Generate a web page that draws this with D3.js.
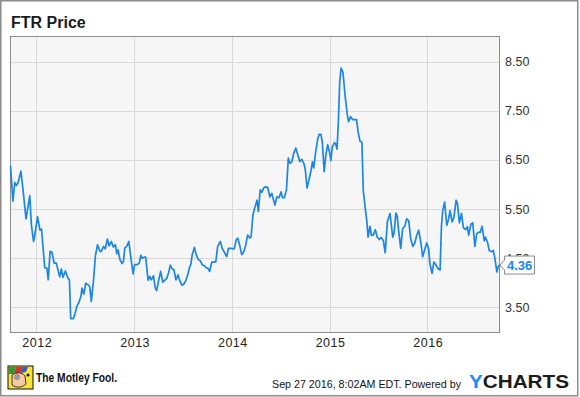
<!DOCTYPE html>
<html>
<head>
<meta charset="utf-8">
<script src="https://cdn.jsdelivr.net/npm/d3@7"></script>
<style>
  body { margin: 0; background: #fff; }
  text { font-family: "Liberation Sans", Arial, sans-serif; }
</style>
</head>
<body>
<div id="chart"></div>
<script>

var title = 'FTR Price';
var yTicks = [3.5, 4.5, 5.5, 6.5, 7.5, 8.5];
var yearTicks = ['2012', '2013', '2014', '2015', '2016'];
var lastLabel = '4.36';

// weekly-ish closes
var dates = [
  '2011-09-27','2011-10-06','2011-10-13','2011-10-19','2011-10-25','2011-11-05','2011-11-12','2011-11-24',
  '2011-12-08','2011-12-14','2011-12-22','2011-12-27','2012-01-06','2012-01-15','2012-01-21','2012-02-02',
  '2012-02-10','2012-02-15','2012-02-22','2012-02-29','2012-03-08','2012-03-16','2012-03-29','2012-04-04',
  '2012-04-10','2012-04-19','2012-04-29','2012-05-04','2012-05-09','2012-05-19','2012-05-24','2012-06-01',
  '2012-06-08','2012-06-16','2012-06-20','2012-06-27','2012-07-04','2012-07-13','2012-07-19','2012-07-25',
  '2012-08-02','2012-08-09','2012-08-17','2012-08-26','2012-08-31','2012-09-09','2012-09-15','2012-09-23',
  '2012-09-29','2012-10-08','2012-10-15','2012-10-23','2012-10-28','2012-11-02','2012-11-09','2012-11-17',
  '2012-11-22','2012-11-27','2012-12-04','2012-12-12','2012-12-19','2012-12-28','2013-01-03','2013-01-13',
  '2013-01-20','2013-01-26','2013-01-31','2013-02-07','2013-02-13','2013-02-22','2013-02-28','2013-03-06',
  '2013-03-14','2013-03-21','2013-03-26','2013-04-03','2013-04-10','2013-04-18','2013-04-25','2013-05-03',
  '2013-05-10','2013-05-16','2013-05-23','2013-05-30','2013-06-06','2013-06-14','2013-06-18','2013-06-28',
  '2013-07-05','2013-07-13','2013-07-20','2013-07-28','2013-08-01','2013-08-06','2013-08-14','2013-08-21',
  '2013-08-29','2013-09-05','2013-09-13','2013-09-20','2013-09-28','2013-10-03','2013-10-10','2013-10-18',
  '2013-10-28','2013-11-02','2013-11-09','2013-11-19','2013-11-26','2013-12-06','2013-12-13','2013-12-19',
  '2013-12-29','2014-01-10','2014-01-17','2014-01-23','2014-01-30','2014-02-07','2014-02-14','2014-02-22',
  '2014-03-01','2014-03-09','2014-03-14','2014-03-21','2014-03-29','2014-04-05','2014-04-10','2014-04-17',
  '2014-04-23','2014-04-30','2014-05-05','2014-05-15','2014-05-23','2014-05-30','2014-06-06','2014-06-11',
  '2014-06-18','2014-06-26','2014-07-04','2014-07-09','2014-07-16','2014-07-24','2014-07-31','2014-08-06',
  '2014-08-13','2014-08-20','2014-08-28','2014-09-04','2014-09-12','2014-09-19','2014-09-27','2014-10-02',
  '2014-10-09','2014-10-16','2014-10-24','2014-10-29','2014-11-03','2014-11-10','2014-11-18','2014-11-23',
  '2014-11-30','2014-12-05','2014-12-12','2014-12-18','2014-12-25','2015-01-02','2015-01-06','2015-01-11',
  '2015-01-19','2015-01-24','2015-01-29','2015-02-03','2015-02-08','2015-02-13','2015-02-20','2015-02-28',
  '2015-03-08','2015-03-13','2015-03-21','2015-03-28','2015-04-12','2015-04-18','2015-04-25','2015-05-02',
  '2015-05-07','2015-05-14','2015-05-20','2015-05-25','2015-06-01','2015-06-06','2015-06-13','2015-06-21',
  '2015-06-28','2015-07-06','2015-07-13','2015-07-21','2015-07-28','2015-08-05','2015-08-15','2015-08-20',
  '2015-08-25','2015-08-30','2015-09-06','2015-09-11','2015-09-16','2015-09-24','2015-10-01','2015-10-09',
  '2015-10-16','2015-10-24','2015-10-31','2015-11-08','2015-11-15','2015-11-22','2015-11-30','2015-12-07',
  '2015-12-15','2015-12-22','2015-12-30','2016-01-06','2016-01-11','2016-01-19','2016-01-26','2016-02-03',
  '2016-02-10','2016-02-18','2016-02-23','2016-02-28','2016-03-06','2016-03-14','2016-03-21','2016-03-26',
  '2016-04-03','2016-04-10','2016-04-18','2016-04-23','2016-04-30','2016-05-08','2016-05-15','2016-05-23',
  '2016-05-30','2016-06-04','2016-06-12','2016-06-19','2016-06-27','2016-07-04','2016-07-12','2016-07-17',
  '2016-07-24','2016-08-01','2016-08-05','2016-08-13','2016-08-20','2016-08-30','2016-09-04','2016-09-10',
  '2016-09-17','2016-09-22','2016-09-27'
];
var prices = [
  6.38,5.66,6.04,5.98,6.03,6.27,5.93,5.30,
  5.77,5.18,4.84,4.98,5.34,5.07,5.09,4.30,
  4.30,4.06,4.64,4.62,4.40,4.40,4.12,4.28,
  4.11,4.24,4.09,4.06,3.27,3.27,3.35,3.52,
  3.59,3.72,3.89,3.77,3.99,3.96,3.92,3.62,
  4.03,4.54,4.77,4.64,4.64,4.74,4.69,4.89,
  4.75,4.84,4.73,4.77,4.59,4.67,4.47,4.39,
  4.43,4.71,4.74,4.84,4.54,4.18,4.37,4.37,
  4.40,4.56,4.50,4.52,4.52,4.05,4.13,4.06,
  4.14,3.89,3.84,4.06,4.23,4.01,4.05,4.09,
  4.21,4.36,4.28,4.26,4.06,4.16,4.08,3.95,
  3.97,4.04,4.16,4.33,4.38,4.57,4.72,4.57,
  4.47,4.45,4.36,4.35,4.30,4.30,4.23,4.42,
  4.42,4.43,4.74,4.84,4.70,4.60,4.53,4.70,
  4.70,4.69,4.87,4.91,4.77,4.57,4.62,4.77,
  4.97,4.91,4.94,5.39,5.55,5.68,5.45,5.89,
  5.84,5.93,5.95,5.94,5.75,5.82,5.68,5.58,
  5.75,5.73,5.85,5.73,5.73,5.89,6.54,6.43,
  6.46,6.63,6.74,6.61,6.47,6.51,6.43,6.32,
  5.93,6.09,6.29,6.46,6.34,6.66,6.93,7.02,
  7.02,6.86,6.26,6.59,6.81,6.63,6.49,6.76,
  6.85,6.83,6.72,7.28,8.09,8.37,8.29,7.82,
  7.43,7.28,7.38,7.32,7.32,7.06,6.88,6.86,
  5.88,5.54,5.27,4.93,5.15,4.97,4.97,5.08,
  4.93,4.88,4.92,4.86,4.61,5.24,5.41,5.17,
  4.93,5.01,5.42,5.35,5.07,4.70,5.10,5.15,
  5.30,5.26,4.90,4.74,4.80,4.95,5.07,4.86,
  4.53,4.66,4.81,4.70,4.39,4.19,4.42,4.36,
  4.29,4.26,5.14,5.47,5.64,5.17,5.30,5.47,
  5.24,5.34,5.68,5.61,5.22,5.41,5.12,5.08,
  5.14,4.97,5.19,5.22,4.74,5.00,5.03,5.03,
  5.15,4.85,4.93,4.83,4.65,4.63,4.66,4.49,
  4.22,4.32,4.36
];

var W = 580, H = 397;
var plot = { x0: 10.5, x1: 499.5, y0: 36.5, y1: 332.5 };
var parse = d3.timeParse('%Y-%m-%d');

var data = dates.map(function (d, i) { return { date: parse(d), price: prices[i] }; });

var svg = d3.select('#chart').append('svg')
    .attr('width', W)
    .attr('height', H);

// outer frame
svg.append('rect')
    .attr('x', 0.75).attr('y', 0.75)
    .attr('width', 577).attr('height', 395)
    .attr('fill', '#fff')
    .attr('stroke', '#8c8c8c')
    .attr('stroke-width', 1.5);

svg.append('text')
    .attr('x', 11).attr('y', 28)
    .style('font-size', '16px')
    .style('font-weight', 'bold')
    .attr('fill', '#1a1a1a')
    .text(title);

var x = d3.scaleTime()
    .domain([parse('2011-09-27'), parse('2016-09-27')])
    .range([plot.x0, plot.x1]);

var y = d3.scaleLinear()
    .domain([3.5, 8.5])
    .range([307.3, 61.7]);

svg.append('rect')
    .attr('x', plot.x0).attr('y', plot.y0)
    .attr('width', plot.x1 - plot.x0).attr('height', plot.y1 - plot.y0)
    .attr('fill', '#f6f6f6');

// grid
svg.append('g')
    .selectAll('line')
    .data(yTicks)
    .enter().append('line')
    .attr('x1', plot.x0).attr('x2', plot.x1)
    .attr('y1', d => Math.round(y(d)) + 0.5)
    .attr('y2', d => Math.round(y(d)) + 0.5)
    .attr('stroke', '#d9d9d9');

svg.append('g')
    .selectAll('line')
    .data(yearTicks)
    .enter().append('line')
    .attr('x1', d => Math.round(x(parse(d + '-01-01'))) + 0.5)
    .attr('x2', d => Math.round(x(parse(d + '-01-01'))) + 0.5)
    .attr('y1', plot.y0).attr('y2', plot.y1)
    .attr('stroke', '#d9d9d9');

svg.append('rect')
    .attr('x', plot.x0).attr('y', plot.y0)
    .attr('width', plot.x1 - plot.x0).attr('height', plot.y1 - plot.y0)
    .attr('fill', 'none')
    .attr('stroke', '#8c8c8c');

// axes labels (4.50 sits partly under the last-value flag, as in the original)
svg.append('g')
    .selectAll('text')
    .data(yTicks)
    .enter().append('text')
    .attr('x', 505)
    .attr('y', d => y(d) + 4.5)
    .style('font-size', '12.5px')
    .attr('fill', '#333')
    .text(d => d3.format('.2f')(d));

svg.append('g')
    .selectAll('text')
    .data(yearTicks)
    .enter().append('text')
    .attr('x', d => x(parse(d + '-01-01')) + 1)
    .attr('y', 347)
    .attr('text-anchor', 'middle')
    .style('font-size', '12.5px')
    .style('letter-spacing', '0.5px')
    .attr('fill', '#222')
    .text(d => d);

// price line
var line = d3.line()
    .x(d => x(d.date))
    .y(d => y(d.price));

svg.append('path')
    .datum(data)
    .attr('d', line)
    .attr('fill', 'none')
    .attr('stroke', '#1a86e8')
    .attr('stroke-width', 1.7)
    .attr('stroke-linejoin', 'round');

// last value flag
var last = data[data.length - 1];
var ly = y(last.price);
svg.append('path')
    .attr('d', `M${plot.x1 + 0.5},${ly} L504.5,${ly - 5} L504.5,${ly - 9} L534.5,${ly - 9} L534.5,${ly + 9} L504.5,${ly + 9} L504.5,${ly + 5} Z`)
    .attr('fill', '#fff')
    .attr('stroke', '#8c8c8c');

svg.append('text')
    .attr('x', 507)
    .attr('y', ly + 5)
    .style('font-size', '13px')
    .style('font-weight', 'bold')
    .attr('fill', '#1a86e8')
    .text(lastLabel);

// footer: Motley Fool mark
var logo = svg.append('g').attr('transform', 'translate(8,366)');
logo.append('rect').attr('width', 25).attr('height', 23).attr('fill', '#f7e33a').attr('stroke', '#111').attr('stroke-width', 1);
logo.append('path').attr('d', 'M1,1 L8,1 L6,8 L1,8 Z').attr('fill', '#2b9a3a');
logo.append('path').attr('d', 'M8,1 L15,1 L12,7 L6,8 Z').attr('fill', '#d9322c');
logo.append('path').attr('d', 'M15,1 L20,1 L18,6 L12,7 Z').attr('fill', '#2f5fc4');
logo.append('path').attr('d', 'M4,9 C8,6 14,6 17,10 L18,18 C14,22 8,22 4,19 Z').attr('fill', '#f2c9a0').attr('stroke', '#111').attr('stroke-width', 0.8);
logo.append('circle').attr('cx', 9).attr('cy', 11).attr('r', 2.2).attr('fill', '#fff').attr('stroke', '#111').attr('stroke-width', 0.7);
logo.append('circle').attr('cx', 9).attr('cy', 11).attr('r', 0.9).attr('fill', '#2f5fc4');
logo.append('circle').attr('cx', 20).attr('cy', 9).attr('r', 1.5).attr('fill', '#111');

svg.append('text')
    .attr('x', 36).attr('y', 382)
    .attr('textLength', 81)
    .attr('lengthAdjust', 'spacingAndGlyphs')
    .style('font-size', '13px')
    .style('font-weight', 'bold')
    .attr('fill', '#111')
    .text('The Motley Fool.');

svg.append('text')
    .attr('x', 272).attr('y', 387.5)
    .attr('textLength', 189)
    .attr('lengthAdjust', 'spacingAndGlyphs')
    .style('font-size', '10.8px')
    .attr('fill', '#111')
    .text('Sep 27 2016, 8:02AM EDT.  Powered by');

var yc = svg.append('text')
    .attr('x', 469).attr('y', 388)
    .attr('textLength', 100)
    .attr('lengthAdjust', 'spacingAndGlyphs')
    .style('font-size', '19px')
    .style('font-weight', 'bold');
yc.append('tspan').attr('fill', '#1a8cff').text('Y');
yc.append('tspan').attr('fill', '#1c1c1c').text('CHARTS');

</script>
</body>
</html>
